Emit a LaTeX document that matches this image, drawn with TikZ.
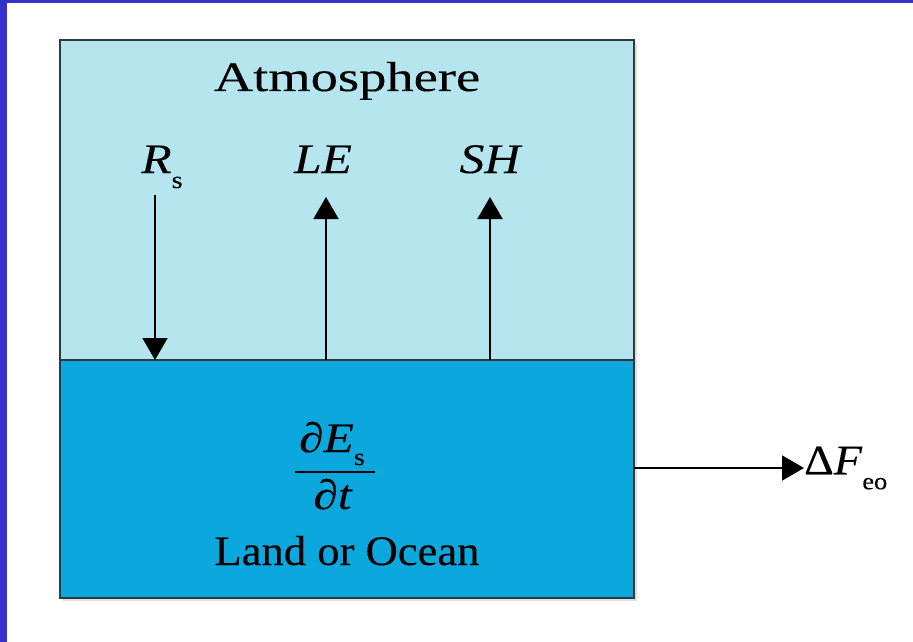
\documentclass[tikz,border=0pt]{standalone}
\usepackage{fontspec}
\usepackage{graphicx}
\setmainfont[FakeStretch=1.18,FakeBold=0.2]{Liberation Serif}
\usetikzlibrary{arrows.meta}
\definecolor{frameblue}{HTML}{3432CC}
\definecolor{atmblue}{HTML}{B5E6F0}
\definecolor{seablue}{HTML}{0BA8DE}
\definecolor{edge}{HTML}{2E3A3E}
\tikzset{
  layer/.style={draw=edge, line width=2pt, minimum width=574pt, inner sep=0pt, outer sep=0pt},
  lbl/.style={font=\fontsize{42}{44}\selectfont, inner sep=0pt},
  flux/.style={line width=2pt, -{Triangle[length=22pt,width=25pt]}},
}
\newcommand{\sbs}[1]{\raisebox{-15pt}{\fontsize{24}{24}\selectfont #1}}
\begin{document}
\begin{tikzpicture}[x=1pt,y=-1pt]
\useasboundingbox (0,0) rectangle (913,642);
\fill[white] (0,0) rectangle (913,642);
\fill[frameblue] (0,0) rectangle (7,642);
\fill[frameblue] (0,0) rectangle (913,3.5);
% shadow
\fill[black!12] (63,43) rectangle (637,601);
\node[layer, fill=atmblue, minimum height=320pt] (atm) at (347,200) {};
\node[layer, fill=seablue, minimum height=238pt] (ground) at (347,479) {};
\node[lbl, anchor=base] (atmtext) at (347,91) {\scalebox{1.1}[1]{Atmosphere}};
\node[lbl, anchor=base] (rs) at (162,173) {\textit{R}\sbs{s}};
\node[lbl, anchor=base] (le) at (323,173) {\textit{LE}};
\node[lbl, anchor=base] (sh) at (491,173) {\textit{SH}};
\coordinate (rstop) at (155,195);
\coordinate (letop) at (326,197);
\coordinate (shtop) at (490,197);
\draw[flux] (rstop) -- (rstop |- ground.north);
\draw[flux] (letop |- ground.north) -- (letop);
\draw[flux] (shtop |- ground.north) -- (shtop);
\node[lbl, anchor=base] (num) at (332,452) {∂\textit{E}\raisebox{-13pt}{\fontsize{24}{24}\selectfont s}};
\node[lbl, anchor=base] (den) at (333,509) {∂\textit{t}};
\coordinate (barl) at (295,472);
\coordinate (barr) at (375,472);
\draw[line width=2pt] (barl) -- (barr);
\node[lbl, anchor=base] (landtext) at (347,565) {\scalebox{0.9}[1]{Land or Ocean}};
\node[lbl, anchor=west] (df) at (804,468) {\scalebox{0.93}[1]{Δ\textit{F}\sbs{eo}}};
\draw[flux] (ground.east |- df.west) -- (df.west);
\end{tikzpicture}
\end{document}
